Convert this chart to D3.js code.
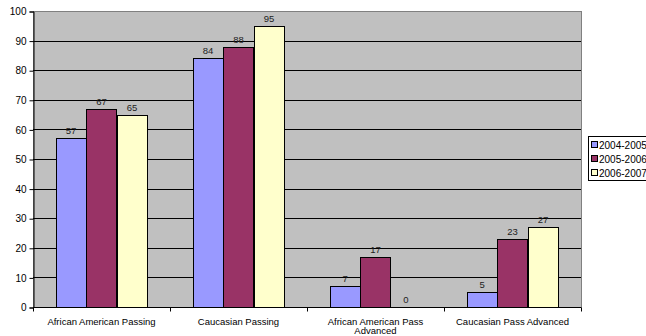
<!DOCTYPE html>
<html><head><meta charset="utf-8">
<script src="https://cdn.jsdelivr.net/npm/d3@7"></script>
<style>body{margin:0;background:#fff}svg{display:block;font-family:"Liberation Sans",Arial,sans-serif}</style>
</head><body>
<svg id="c" width="646" height="336"></svg>
<script>
const categories = [["African American Passing"],["Caucasian Passing"],["African American Pass","Advanced"],["Caucasian Pass Advanced"]];
const seriesNames = ["2004-2005","2005-2006","2006-2007"];
const s2004 = [57,84,7,5];
const s2005 = [67,88,17,23];
const s2006 = [65,95,0,27];
const yTicks = [0,10,20,30,40,50,60,70,80,90,100];
const colors = ["#9999FF","#993366","#FFFFCC"];

const series = [s2004,s2005,s2006];
const svg = d3.select("#c");
const L=33,R=581,T=11,B=307;
const x0 = d3.scaleBand().domain(d3.range(categories.length)).range([L,R]).paddingInner(0).paddingOuter(0);
const y = d3.scaleLinear().domain([0,100]).range([B,T]);
const bw = x0.bandwidth()/(3+1.5);
const x1 = d3.scaleBand().domain(d3.range(3)).range([bw*0.75, bw*0.75+bw*3]);

svg.append("rect").attr("x",L).attr("y",T).attr("width",R-L).attr("height",B-T).attr("fill","#C0C0C0").attr("stroke","#808080").attr("stroke-width",1).attr("shape-rendering","crispEdges");

svg.append("g").selectAll("line").data(yTicks.filter(d=>d>0&&d<100)).join("line")
  .attr("x1",L).attr("x2",R).attr("y1",d=>Math.round(y(d))+0.5).attr("y2",d=>Math.round(y(d))+0.5)
  .attr("stroke","#000").attr("stroke-width",1);

const g = svg.append("g");
categories.forEach((c,i)=>{
  series.forEach((s,j)=>{
    const v=s[i];
    const bx = x0(i)+x1(j);
    if(v>0){
      g.append("rect").attr("x",Math.round(bx)+0.5).attr("y",Math.round(y(v))+0.5)
       .attr("width",Math.round(x1.bandwidth())).attr("height",Math.round(y(0))-Math.round(y(v)))
       .attr("fill",colors[j]).attr("stroke","#000").attr("stroke-width",1);
    }
    g.append("text").attr("x",bx+x1.bandwidth()/2).attr("y",y(v)-4)
     .attr("text-anchor","middle").attr("font-size",9.5).attr("fill","#222").text(v);
  });
});

const ya = d3.axisLeft(y).tickValues(yTicks).tickSize(4).tickPadding(3);
const yg = svg.append("g").attr("transform",`translate(${L+0.5},0.5)`).call(ya);
yg.select(".domain").attr("stroke","#000");
yg.selectAll("text").attr("font-size",10).attr("fill","#000").attr("font-family","Liberation Sans, Arial");

const xg = svg.append("g").attr("transform",`translate(0,${B+0.5})`);
xg.append("line").attr("x1",L).attr("x2",R).attr("stroke","#000");
d3.range(categories.length+1).forEach(k=>{
  const xx = Math.round(k<categories.length?x0(k):R)+0.5;
  xg.append("line").attr("x1",xx).attr("x2",xx).attr("y1",0).attr("y2",4).attr("stroke","#000");
});
categories.forEach((c,i)=>{
  const t = xg.append("text").attr("x",x0(i)+x0.bandwidth()/2).attr("y",17).attr("text-anchor","middle").attr("font-size",9.5).attr("fill","#000");
  c.forEach((line,k)=>t.append("tspan").attr("x",x0(i)+x0.bandwidth()/2).attr("dy",k===0?0:9.5).text(line));
});

const lg = svg.append("g");
lg.append("rect").attr("x",588.5).attr("y",136.5).attr("width",60).attr("height",44).attr("fill","#fff").attr("stroke","#000");
seriesNames.forEach((n,j)=>{
  const cy = 145+j*14;
  lg.append("rect").attr("x",591.5).attr("y",cy-3.5).attr("width",6).attr("height",6).attr("fill",colors[j]).attr("stroke","#000");
  lg.append("text").attr("x",599).attr("y",cy+3.5).attr("font-size",10).attr("fill","#000").text(n);
});
</script>
</body></html>
